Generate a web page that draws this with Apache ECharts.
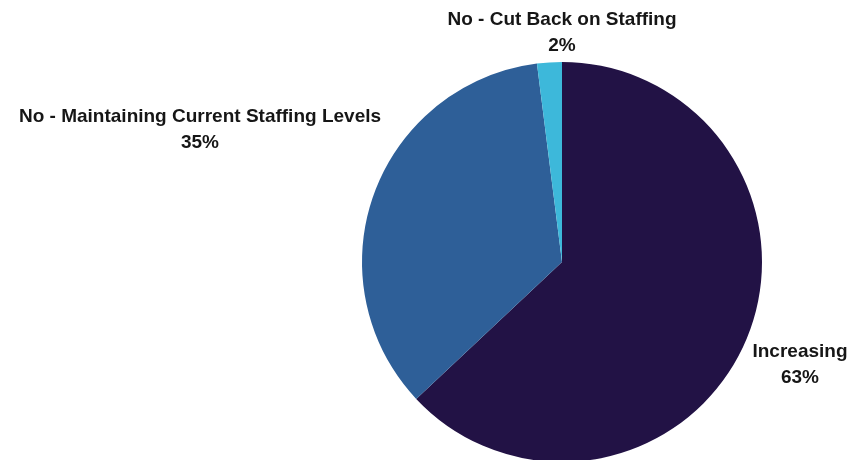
<!DOCTYPE html>
<html>
<head>
<meta charset="utf-8">
<style>
  html, body { margin: 0; padding: 0; background: #fff; }
  #chart { width: 853px; height: 460px; }
</style>
<script src="https://cdn.jsdelivr.net/npm/echarts@6/dist/echarts.min.js"></script>
</head>
<body>
<div id="chart"></div>
<script>
var names = ['Increasing', 'No - Maintaining Current Staffing Levels', 'No - Cut Back on Staffing'];
var values = [63, 35, 2];
var colors = ['#221245', '#2e5f98', '#3db8da'];

// label centres (layout only)
var labelPos = [[800, 365], [200, 130], [562, 33]];

var myChart = echarts.init(document.getElementById('chart'));
var data = names.map(function (n, i) {
    return { name: n, value: values[i], itemStyle: { color: colors[i] } };
});
var option = {
    animation: false,
    series: [{
        type: 'pie',
        center: [562, 262],
        radius: 200,
        startAngle: 90,
        clockwise: true,
        data: data,
        itemStyle: { borderWidth: 0 },
        label: {
            show: true,
            position: 'outside',
            formatter: '{b}\n{d}%',
            fontFamily: 'Liberation Sans, Arial, sans-serif',
            fontWeight: 'bold',
            fontSize: 19,
            lineHeight: 26,
            color: '#161616',
            align: 'center',
            overflow: 'none',
            width: 500
        },
        labelLine: { show: false },
        labelLayout: function (params) {
            var p = labelPos[params.dataIndex];
            return { x: p[0], y: p[1], align: 'center', verticalAlign: 'middle' };
        }
    }]
};
myChart.setOption(option);
</script>
</body>
</html>
